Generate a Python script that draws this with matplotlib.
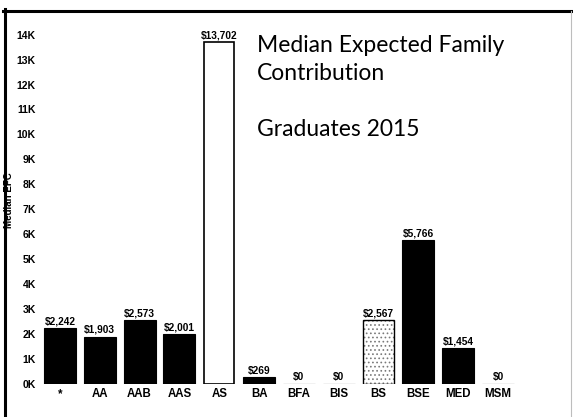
import matplotlib
matplotlib.use("Agg")
import matplotlib.pyplot as plt
from matplotlib.lines import Line2D

categories = ["*", "AA", "AAB", "AAS", "AS", "BA", "BFA", "BIS", "BS", "BSE", "MED", "MSM"]
values = [2242, 1903, 2573, 2001, 13702, 269, 0, 0, 2567, 5766, 1454, 0]
styles = ["solid", "solid", "solid", "solid", "open", "solid", "solid", "solid", "dots", "solid", "solid", "solid"]
yticks = [0, 1000, 2000, 3000, 4000, 5000, 6000, 7000, 8000, 9000, 10000, 11000, 12000, 13000, 14000]
ytick_labels = ["0K", "1K", "2K", "3K", "4K", "5K", "6K", "7K", "8K", "9K", "10K", "11K", "12K", "13K", "14K"]
title_lines = ["Median Expected Family", "Contribution", "Graduates 2015"]

W, H = 573, 417
fig = plt.figure(figsize=(W / 100, H / 100), dpi=100)
fig.patch.set_facecolor("white")

ax_left, ax_right, ax_bottom, ax_top = 40, 518, 384, 34.6
ax = fig.add_axes([ax_left / W, (H - ax_bottom) / H, (ax_right - ax_left) / W, (ax_bottom - ax_top) / H])

font = "Liberation Sans"
plt.rcParams["hatch.linewidth"] = 0.7
x = list(range(len(categories)))
for xi, v, st in zip(x, values, styles):
    if st == "solid":
        ax.bar(xi, v, width=0.8, color="black", edgecolor="black", linewidth=0.8)
    elif st == "open":
        ax.bar(xi, v, width=0.75, color="white", edgecolor="black", linewidth=1.2)
    else:
        ax.bar(xi, v, width=0.78, color="white", edgecolor="#7a7a7a", linewidth=0, hatch="....")
        ax.bar(xi, v, width=0.78, fill=False, edgecolor="black", linewidth=1.0)
    label = "${:,}".format(v)
    ax.annotate(label, (xi, v), xytext=(0, 1.2), textcoords="offset points",
                ha="center", va="bottom", fontsize=7.3, fontweight="bold",
                family=font, color="black", annotation_clip=False)

ax.set_xlim(-0.5, len(categories) - 0.5)
ax.set_ylim(0, 14000)
ax.set_yticks(yticks)
ax.set_yticklabels(ytick_labels, fontsize=7.5, fontweight="bold", family=font)
ax.set_xticks(x)
ax.set_xticklabels(categories, fontsize=8.3, fontweight="bold", family=font)
ax.tick_params(axis="both", length=0)
ax.tick_params(axis="x", pad=3)
ax.tick_params(axis="y", pad=3)
for s in ax.spines.values():
    s.set_visible(False)
ax.set_facecolor("none")

fig.text(9 / W, (H - 200) / H, "Median EFC", rotation=90, ha="center", va="center",
         fontsize=7, fontweight="bold", family=font)

baselines = [52, 80, 136]
for line, b in zip(title_lines, baselines):
    fig.text(257 / W, (H - b) / H, line, ha="left", va="baseline", fontsize=16.5,
             family="Lato", color="black")

# frame of the slide
fig.add_artist(Line2D([3 / W, 571 / W], [(H - 10.5) / H, (H - 10.5) / H], color="black", lw=2.2))
fig.add_artist(Line2D([4.5 / W, 4.5 / W], [(H - 9) / H, 0], color="black", lw=2.2))
fig.add_artist(Line2D([570.5 / W, 570.5 / W], [(H - 11) / H, 0], color="#bdbdbd", lw=0.8))

fig.savefig("out.png", dpi=100)
